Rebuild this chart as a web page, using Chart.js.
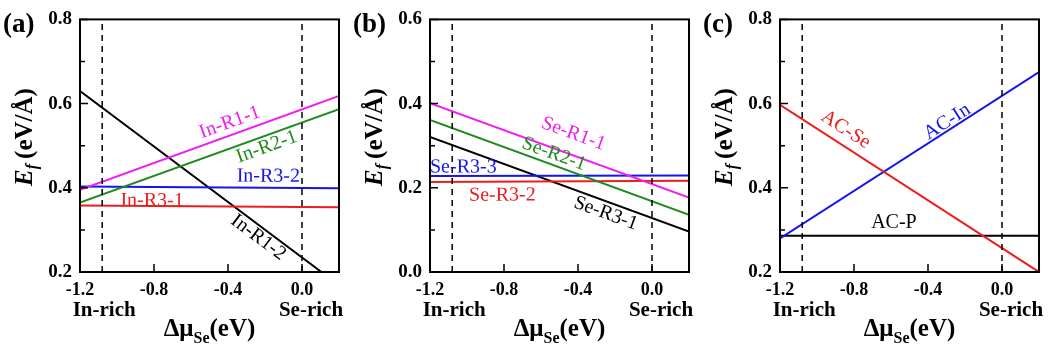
<!DOCTYPE html>
<html>
<head>
<meta charset="utf-8">
<script src="https://cdn.jsdelivr.net/npm/chart.js@4.4.1/dist/chart.umd.min.js"></script>
<style>
  body { margin: 0; background: #fff; }
  #wrap { position: relative; width: 1052px; height: 353px; }
  canvas { position: absolute; top: 0; }
</style>
</head>
<body>
<div id="wrap">
  <canvas id="panelA" width="350" height="353" style="left:0"></canvas>
  <canvas id="panelB" width="350" height="353" style="left:350px"></canvas>
  <canvas id="panelC" width="352" height="353" style="left:700px"></canvas>
</div>
<script>
// chemical potential range and the two limits
var muEnds = [-1.2, 0.2];
var inRichMu = -1.08;
var seRichMu = 0.0;
var xTickVals = [-1.2, -0.8, -0.4, 0.0];

// (a) In-terminated ribbons, Ef at the two ends of the range
var inR11 = [0.395, 0.618];
var inR21 = [0.365, 0.587];
var inR32 = [0.403, 0.399];
var inR31 = [0.358, 0.354];
var inR12 = [0.630, 0.200];
var inR12Mu = [-1.2, 0.105];

// (b) Se-terminated ribbons
var seR11 = [0.401, 0.177];
var seR21 = [0.361, 0.136];
var seR33 = [0.228, 0.229];
var seR32 = [0.214, 0.217];
var seR31 = [0.321, 0.096];

// (c) armchair edges
var acSe = [0.597, 0.200];
var acIn = [0.280, 0.675];
var acP  = [0.286, 0.286];

var MAGENTA = '#f01ef0';
var GREEN = '#1e8c1e';
var BLUE = '#1414f0';
var RED = '#ee1c1c';
var BLACK = '#000000';

var SERIF = '"Liberation Serif", "Times New Roman", serif';

var toPoints = function(xs, ys) {
	var pts = [];
	for (var i = 0; i < xs.length; i++) {
		pts.push({ x: xs[i], y: ys[i] });
	}
	return pts;
};

// draws pieces of text (with sub/superscript) one after another
var drawRich = function(ctx, parts, x, y) {
	var total = 0;
	parts.forEach(function(p) {
		ctx.font = p.font;
		total += ctx.measureText(p.t).width;
	});
	var cx = x - total / 2;
	ctx.textAlign = 'left';
	ctx.textBaseline = 'alphabetic';
	parts.forEach(function(p) {
		ctx.font = p.font;
		ctx.fillText(p.t, cx, y + (p.dy || 0));
		cx += ctx.measureText(p.t).width;
	});
};

var decorPlugin = {
	id: 'decor',
	afterDraw: function(chart, args, opts) {
		var ctx = chart.ctx;
		var a = chart.chartArea;
		var xs = chart.scales.x;
		var ys = chart.scales.y;
		ctx.save();

		// frame
		ctx.strokeStyle = '#000';
		ctx.lineWidth = 2;
		ctx.strokeRect(a.left, a.top, a.right - a.left, a.bottom - a.top);

		// inward ticks
		ctx.lineWidth = 1.5;
		ctx.beginPath();
		xTickVals.forEach(function(v) {
			var px = xs.getPixelForValue(v);
			ctx.moveTo(px, a.bottom);
			ctx.lineTo(px, a.bottom - 8);
		});
		for (var v = opts.yMin; v <= opts.yMax + 1e-9; v += 0.1) {
			var py = ys.getPixelForValue(v);
			var major = Math.round(v * 10) % 2 === 0;
			ctx.moveTo(a.left, py);
			ctx.lineTo(a.left + (major ? 8 : 5), py);
		}
		ctx.stroke();

		// curve labels, rotated along their line
		opts.labels.forEach(function(l) {
			var ds = chart.data.datasets[l.ds];
			var p0 = ds.data[0], p1 = ds.data[ds.data.length - 1];
			var ang = Math.atan2(ys.getPixelForValue(p1.y) - ys.getPixelForValue(p0.y),
				xs.getPixelForValue(p1.x) - xs.getPixelForValue(p0.x));
			ctx.save();
			ctx.translate(xs.getPixelForValue(l.x), ys.getPixelForValue(l.y));
			ctx.rotate(ang);
			ctx.fillStyle = ds.borderColor;
			ctx.font = '20px ' + SERIF;
			ctx.textAlign = 'center';
			ctx.textBaseline = 'middle';
			ctx.fillText(l.text, 0, 0);
			ctx.restore();
		});

		ctx.fillStyle = '#000';

		// panel tag
		ctx.font = 'bold 27px ' + SERIF;
		ctx.textAlign = 'left';
		ctx.textBaseline = 'alphabetic';
		ctx.fillText(opts.tag, 3, 32);

		// chemical potential limits
		ctx.font = 'bold 21px ' + SERIF;
		ctx.textAlign = 'center';
		ctx.fillText('In-rich', xs.getPixelForValue(inRichMu) + 2, 316);
		ctx.fillText('Se-rich', xs.getPixelForValue(seRichMu) + 9, 316);

		// x title
		drawRich(ctx, [
			{ t: '\u0394\u03bc', font: 'bold 25px ' + SERIF },
			{ t: 'Se', font: 'bold 16px ' + SERIF, dy: 7 },
			{ t: '(eV)', font: 'bold 25px ' + SERIF }
		], (a.left + a.right) / 2, 336);

		// y title, rotated
		ctx.save();
		ctx.translate(32, 137);
		ctx.rotate(-Math.PI / 2);
		drawRich(ctx, [
			{ t: 'E', font: 'italic bold 25px ' + SERIF },
			{ t: 'f', font: 'italic bold 16px ' + SERIF, dy: 5 },
			{ t: '\u2009(eV/\u00c5)', font: 'bold 25px ' + SERIF }
		], 0, 0);
		ctx.restore();

		ctx.restore();
	}
};

var makePanel = function(id, tag, yMin, yMax, series, labels) {
	var canvas = document.getElementById(id);
	var datasets = [];

	[inRichMu, seRichMu].forEach(function(mu) {
		datasets.push({
			data: [{ x: mu, y: yMin }, { x: mu, y: yMax }],
			borderColor: '#000',
			borderWidth: 1.5,
			borderDash: [6, 5],
			showLine: true,
			pointRadius: 0
		});
	});

	series.forEach(function(s) {
		datasets.push({
			data: toPoints(s.mu || muEnds, s.ef),
			borderColor: s.color,
			borderWidth: 2,
			showLine: true,
			pointRadius: 0,
			fill: false
		});
	});

	var yTickVals = [];
	for (var v = yMin; v <= yMax + 1e-9; v += 0.2) {
		yTickVals.push(Math.round(v * 10) / 10);
	}

	var tickFont = function(size) {
		return { family: SERIF, size: size, weight: 'bold' };
	};

	return new Chart(canvas, {
		type: 'scatter',
		data: { datasets: datasets },
		plugins: [decorPlugin],
		options: {
			responsive: false,
			animation: false,
			layout: { padding: { top: 15, right: canvas.width - 339, left: 0, bottom: 0 } },
			plugins: {
				legend: { display: false },
				tooltip: { enabled: false },
				decor: { tag: tag, yMin: yMin, yMax: yMax, labels: labels }
			},
			scales: {
				x: {
					type: 'linear',
					min: muEnds[0],
					max: muEnds[1],
					afterBuildTicks: function(scale) {
						scale.ticks = xTickVals.map(function(t) { return { value: t }; });
					},
					afterFit: function(scale) { scale.height = 81; },
					grid: { display: false, drawTicks: false },
					border: { display: false },
					ticks: {
						padding: 8,
						color: '#000',
						font: tickFont(18),
						maxRotation: 0,
						callback: function(val) { return Number(val).toFixed(1); }
					}
				},
				y: {
					type: 'linear',
					min: yMin,
					max: yMax,
					afterBuildTicks: function(scale) {
						scale.ticks = yTickVals.map(function(t) { return { value: t }; });
					},
					afterFit: function(scale) { scale.width = 80; },
					grid: { display: false, drawTicks: false },
					border: { display: false },
					ticks: {
						padding: 8,
						color: '#000',
						font: tickFont(19),
						callback: function(val) { return Number(val).toFixed(1); }
					}
				}
			}
		}
	});
};

// datasets 0 and 1 are the dashed limits, curves start at index 2
makePanel('panelA', '(a)', 0.2, 0.8, [
	{ ef: inR11, color: MAGENTA },
	{ ef: inR21, color: GREEN },
	{ ef: inR32, color: BLUE },
	{ ef: inR31, color: RED },
	{ ef: inR12, mu: inR12Mu, color: BLACK }
], [
	{ text: 'In-R1-1', x: -0.39, y: 0.555, ds: 2 },
	{ text: 'In-R2-1', x: -0.19, y: 0.497, ds: 3 },
	{ text: 'In-R3-2', x: -0.182, y: 0.427, ds: 4 },
	{ text: 'In-R3-1', x: -0.81, y: 0.369, ds: 5 },
	{ text: 'In-R1-2', x: -0.236, y: 0.282, ds: 6 }
]);

makePanel('panelB', '(b)', 0.0, 0.6, [
	{ ef: seR11, color: MAGENTA },
	{ ef: seR21, color: GREEN },
	{ ef: seR33, color: BLUE },
	{ ef: seR32, color: RED },
	{ ef: seR31, color: BLACK }
], [
	{ text: 'Se-R1-1', x: -0.425, y: 0.328, ds: 2 },
	{ text: 'Se-R2-1', x: -0.53, y: 0.28, ds: 3 },
	{ text: 'Se-R3-3', x: -1.02, y: 0.249, ds: 4 },
	{ text: 'Se-R3-2', x: -0.809, y: 0.182, ds: 5 },
	{ text: 'Se-R3-1', x: -0.25, y: 0.139, ds: 6 }
]);

makePanel('panelC', '(c)', 0.2, 0.8, [
	{ ef: acSe, color: RED },
	{ ef: acIn, color: BLUE },
	{ ef: acP, color: BLACK }
], [
	{ text: 'AC-Se', x: -0.845, y: 0.538, ds: 2 },
	{ text: 'AC-In', x: -0.296, y: 0.557, ds: 3 },
	{ text: 'AC-P', x: -0.584, y: 0.316, ds: 4 }
]);
</script>
</body>
</html>
